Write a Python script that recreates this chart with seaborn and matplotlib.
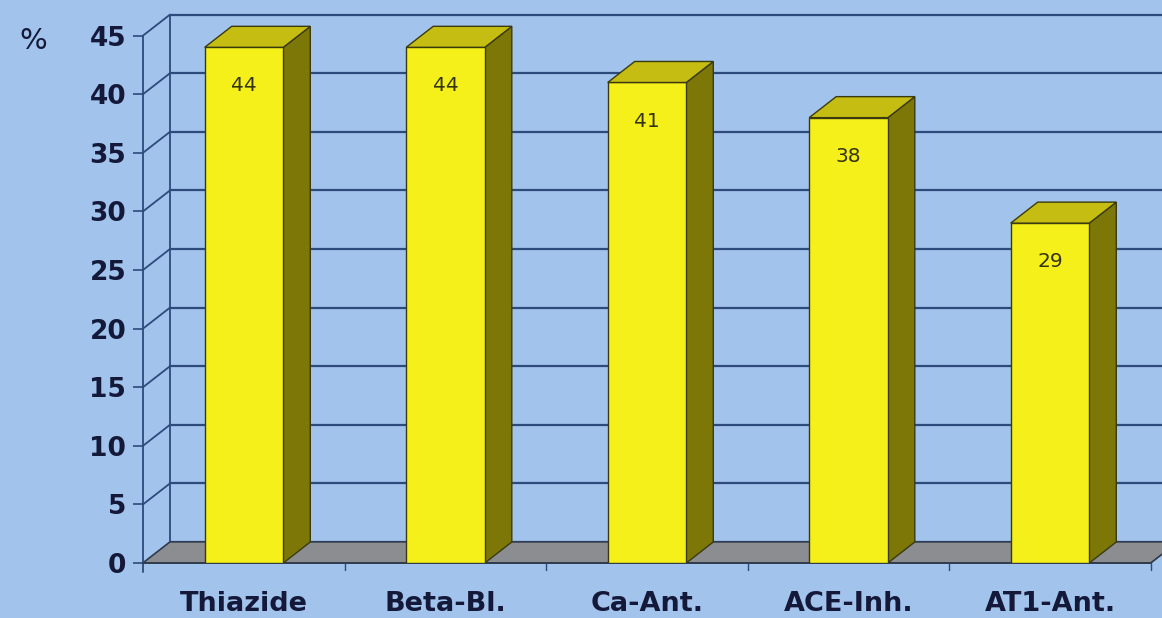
import matplotlib
matplotlib.use("Agg")
import matplotlib.pyplot as plt
from matplotlib.patches import Polygon
import pandas as pd
import seaborn as sns

# Share of patients per drug class (%)
categories = ["Thiazide", "Beta-Bl.", "Ca-Ant.", "ACE-Inh.", "AT1-Ant."]
values = [44, 44, 41, 38, 29]
y_ticks = [0, 5, 10, 15, 20, 25, 30, 35, 40, 45]
y_unit = "%"

BG = "#a2c3ec"
GRID = "#2c4a7c"
TEXT = "#14193a"
FRONT = "#f5f01a"
SIDE = "#7c7706"
TOP = "#c6bd12"
FLOOR = "#8b8d90"
EDGE = "#3a3a10"

sns.set_theme(style="white")
plt.rcParams["font.family"] = ["DejaVu Sans"]

W, H = 1162, 618
fig = plt.figure(figsize=(W / 100, H / 100), dpi=100)
fig.patch.set_facecolor(BG)

# front axis origin in pixels
x0_px, y0_px = 143, 563
px_per_cat, px_per_val = 201.5, 11.72
centre0_px = 244
ax = fig.add_axes([x0_px / W, (H - y0_px) / H, (W - x0_px) / W, y0_px / H])
ax.set_facecolor(BG)

df = pd.DataFrame({"cls": categories, "pct": values})
sns.barplot(data=df, x="cls", y="pct", color=FRONT, saturation=1, width=0.39,
            edgecolor=EDGE, linewidth=1.0, ax=ax, zorder=5)

x_left = (x0_px - centre0_px) / px_per_cat
x_right = (W - centre0_px) / px_per_cat
ax.set_xlim(x_left, x_right)
ax.set_ylim(0, y0_px / px_per_val)

# depth of the pseudo-3D projection in data units
DX = 27 / px_per_cat
DY = 21 / px_per_val
x_end = len(categories) - 0.5

# back wall grid and left wall connectors
for v in y_ticks:
    ax.plot([x_left, x_left + DX], [v, v + DY], color=GRID, lw=1.3, zorder=1,
            clip_on=False)
    ax.plot([x_left + DX, x_right + 1], [v + DY, v + DY], color=GRID, lw=1.6,
            zorder=1, clip_on=False)
ax.plot([x_left + DX, x_left + DX], [DY, y_ticks[-1] + DY], color=GRID, lw=1.3,
        zorder=1)

# floor
floor = Polygon([(x_left, 0), (x_end, 0), (x_end + DX, DY), (x_right + 1, DY),
                 (x_left + DX, DY)], closed=True, facecolor=FLOOR,
                edgecolor="#2f3a4a", lw=1.0, zorder=2, clip_on=False)
ax.add_patch(floor)
ax.plot([x_end, x_end + DX], [0, DY], color="#2f3a4a", lw=1.0, zorder=2)

# side and top faces of each bar, value printed on the front face
for patch, v in zip(ax.patches[: len(values)], values):
    bx0 = patch.get_x()
    bx1 = bx0 + patch.get_width()
    side = Polygon([(bx1, 0), (bx1 + DX, DY), (bx1 + DX, v + DY), (bx1, v)],
                   closed=True, facecolor=SIDE, edgecolor=EDGE, lw=1.0, zorder=4)
    top = Polygon([(bx0, v), (bx1, v), (bx1 + DX, v + DY), (bx0 + DX, v + DY)],
                  closed=True, facecolor=TOP, edgecolor=EDGE, lw=1.0, zorder=6)
    ax.add_patch(side)
    ax.add_patch(top)
    ax.text(bx0 + patch.get_width() / 2, v - 3.3, f"{v}", ha="center",
            va="center", fontsize=14.5, color="#33330e", zorder=7)

# front axes lines
for s in ax.spines.values():
    s.set_visible(False)
ax.plot([x_left, x_left], [-0.8, y_ticks[-1]], color=GRID, lw=1.3, zorder=3,
        clip_on=False)
ax.plot([x_left, x_end], [0, 0], color="#2f3a4a", lw=1.3, zorder=3, clip_on=False)
for b in [i + 0.5 for i in range(len(categories) - 1)] + [x_end]:
    ax.plot([b, b], [0, -0.6], color=GRID, lw=1.0, zorder=3, clip_on=False)

ax.set_yticks(y_ticks)
ax.set_yticklabels([str(t) for t in y_ticks], fontsize=19, fontweight="bold",
                   color=TEXT)
ax.tick_params(axis="y", length=7, width=1.2, color=GRID, pad=5, left=True)
ax.set_xticks(range(len(categories)))
ax.set_xticklabels(categories, fontsize=19.5, fontweight="bold", color=TEXT)
ax.tick_params(axis="x", length=0, pad=20)
ax.set_xlabel("")
ax.set_ylabel("")
ax.grid(False)

fig.text(33 / W, 1 - 41 / H, y_unit, fontsize=21, color=TEXT, ha="center",
         va="center")

fig.savefig("out.png", dpi=100, facecolor=BG)
